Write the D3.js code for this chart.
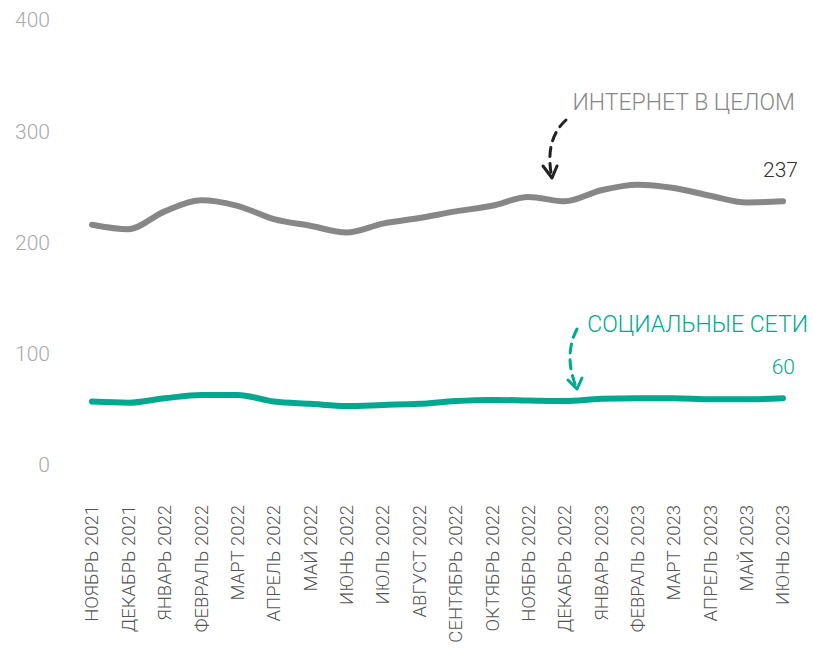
<!DOCTYPE html>
<html><head><meta charset="utf-8">
<script src="https://cdn.jsdelivr.net/npm/d3@7"></script>
<style>body{margin:0;background:#fff}svg{display:block}text{font-family:Roboto,sans-serif}</style>
</head><body><svg id="c" width="813" height="651"></svg>
<script>
const months = ["НОЯБРЬ 2021","ДЕКАБРЬ 2021","ЯНВАРЬ 2022","ФЕВРАЛЬ 2022","МАРТ 2022","АПРЕЛЬ 2022","МАЙ 2022","ИЮНЬ 2022","ИЮЛЬ 2022","АВГУСТ 2022","СЕНТЯБРЬ 2022","ОКТЯБРЬ 2022","НОЯБРЬ 2022","ДЕКАБРЬ 2022","ЯНВАРЬ 2023","ФЕВРАЛЬ 2023","МАРТ 2023","АПРЕЛЬ 2023","МАЙ 2023","ИЮНЬ 2023"];
const internet = [216,212,228,238,233,221,215,209,217,222,228,233,241,237,247,252,249,242,236,237];
const social = [57,56,60,63,63,57,55,53,54,55,57.5,58.5,58,57.5,59.5,60,60,59,59,60];
const yTicks = [0,100,200,300,400];
const seriesNames = ["ИНТЕРНЕТ В ЦЕЛОМ","СОЦИАЛЬНЫЕ СЕТИ"];

const svg = d3.select("#c");
const x = d3.scalePoint().domain(months).range([92,783]);
const y = d3.scaleLinear().domain([0,400]).range([465,20]);

// y labels
svg.append("g").selectAll("text").data(yTicks).join("text")
  .attr("x",50).attr("y",d=>y(d)).attr("dy","0.35em")
  .attr("text-anchor","end").attr("font-size",21).attr("font-weight",300)
  .attr("fill","#aaa").text(d=>d);

// x labels
svg.append("g").selectAll("text").data(months).join("text")
  .attr("transform",d=>`translate(${x(d)},505) rotate(-90)`)
  .attr("dy","0.35em").attr("text-anchor","end").attr("font-size",18.5).attr("font-weight",300)
  .attr("fill","#555").text(d=>d);

const line = d3.line().x((d,i)=>x(months[i])).y(d=>y(d)).curve(d3.curveMonotoneX);
svg.append("path").attr("d",line(internet)).attr("fill","none")
  .attr("stroke","#878787").attr("stroke-width",6).attr("stroke-linecap","round").attr("stroke-linejoin","round");
svg.append("path").attr("d",line(social)).attr("fill","none")
  .attr("stroke","#00a88f").attr("stroke-width",6).attr("stroke-linecap","round").attr("stroke-linejoin","round");

// end labels
const last = months[months.length-1];
svg.append("text").attr("x",x(last)+15).attr("y",y(internet[internet.length-1])-24)
  .attr("text-anchor","end").attr("font-size",21).attr("font-weight",300).attr("fill","#333")
  .text(internet[internet.length-1]);
svg.append("text").attr("x",x(last)+12).attr("y",y(social[social.length-1])-24)
  .attr("text-anchor","end").attr("font-size",21).attr("font-weight",300).attr("fill","#00a88f")
  .text(social[social.length-1]);

// series annotations
svg.append("text").attr("x",795).attr("y",110).attr("text-anchor","end")
  .attr("font-size",23).attr("font-weight",300).attr("fill","#888").text(seriesNames[0]);
svg.append("text").attr("x",808).attr("y",332).attr("text-anchor","end")
  .attr("font-size",23).attr("font-weight",300).attr("fill","#00a88f").text(seriesNames[1]);

// arrows
function arrow(d, tip, l, r, color){
  svg.append("path").attr("d",d).attr("fill","none").attr("stroke",color)
    .attr("stroke-width",3).attr("stroke-dasharray","9 7").attr("stroke-linecap","round");
  svg.append("path").attr("d",`M${l[0]},${l[1]}L${tip[0]},${tip[1]}L${r[0]},${r[1]}`)
    .attr("fill","none").attr("stroke",color).attr("stroke-width",3)
    .attr("stroke-linecap","round").attr("stroke-linejoin","round");
}
arrow("M566,120 Q544,140 552,178",[552,178],[543,166],[557,166],"#222");
arrow("M577,329 Q563,356 577,389",[577,389],[568,380],[582,378],"#00a88f");
</script></body></html>
